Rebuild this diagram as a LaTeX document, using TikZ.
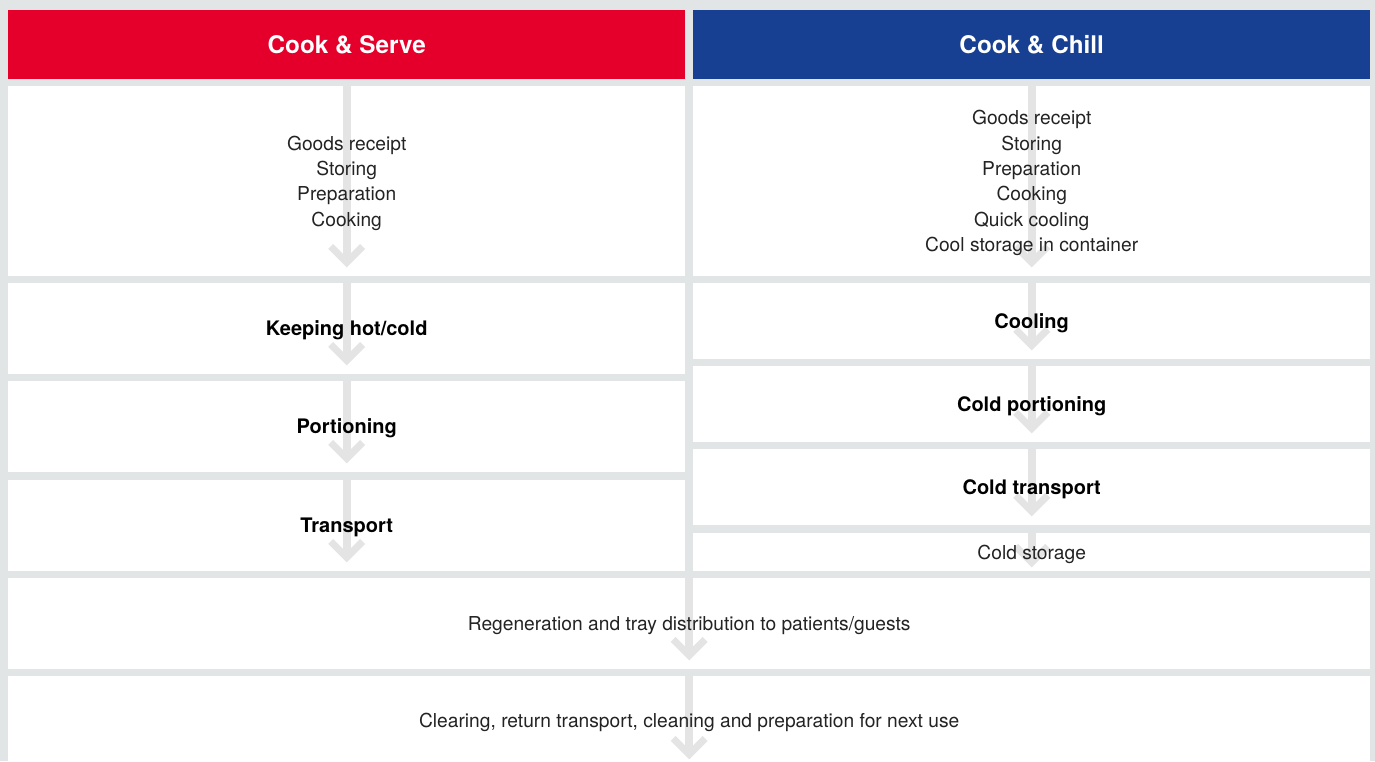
\documentclass[tikz,border=0pt]{standalone}
\usepackage{fontspec}
\setmainfont{TeX Gyre Heros}
\usepackage{xcolor}
\usetikzlibrary{arrows.meta}

\definecolor{bggray}{RGB}{225,229,230}
\definecolor{arrowgray}{RGB}{228,228,228}
\definecolor{serveRed}{RGB}{228,0,43}
\definecolor{chillBlue}{RGB}{24,64,146}
\definecolor{txtgray}{RGB}{35,35,35}

\tikzset{
  box/.style={rectangle, fill=white, inner sep=0pt, anchor=north west},
  header/.style={rectangle, inner sep=0pt, anchor=north west, text=white, font=\fontsize{24.3}{28}\selectfont\bfseries},
  flow/.style={draw=arrowgray, line width=8pt, -{Straight Barb[length=16pt, width=32pt, line width=7pt]}},
  plain/.style={align=center, text=txtgray, yshift=-2pt, font=\fontsize{19.2}{25.4}\selectfont},
  strong/.style={align=center, text=black, yshift=-2pt, font=\fontsize{20}{25}\selectfont\bfseries}
}

\begin{document}
\begin{tikzpicture}[x=1pt, y=-1pt]
                \useasboundingbox[fill=bggray] (0,0) rectangle (1375,761);
                \clip (0,0) rectangle (1375,761);

                % headers
                \node[header, fill=serveRed, minimum width=677pt, minimum height=69pt] (serve) at (8,10) {Cook \& Serve};
                \node[header, fill=chillBlue, minimum width=677pt, minimum height=69pt] (chill) at (693,10) {Cook \& Chill};

                % boxes
                \node[box, minimum width=677pt, minimum height=190pt] (L1) at (8,86) {};
                \node[box, minimum width=677pt, minimum height=91pt] (L2) at (8,283) {};
                \node[box, minimum width=677pt, minimum height=91pt] (L3) at (8,381) {};
                \node[box, minimum width=677pt, minimum height=91pt] (L4) at (8,480) {};
                \node[box, minimum width=677pt, minimum height=190pt] (R1) at (693,86) {};
                \node[box, minimum width=677pt, minimum height=76pt] (R2) at (693,283) {};
                \node[box, minimum width=677pt, minimum height=76pt] (R3) at (693,366) {};
                \node[box, minimum width=677pt, minimum height=76pt] (R4) at (693,449) {};
                \node[box, minimum width=677pt, minimum height=38pt] (R5) at (693,533) {};
                \node[box, minimum width=1362pt, minimum height=91pt] (B1) at (8,578) {};
                \node[box, minimum width=1362pt, minimum height=91pt] (B2) at (8,676) {};

                % arrows
                \foreach \b in {L1,L2,L3,L4,R1,R2,R3,R4,B1}
                    \draw[flow] (\b.north) -- ([yshift=9pt]\b.south);
                \draw[flow] (R5.north) -- ([yshift=4pt]R5.south);
                \draw[flow] (B2.north) -- ([yshift=8pt]B2.south);

                % texts
                \node[plain] (tL1) at (L1.center) {Goods receipt\\Storing\\Preparation\\Cooking};
                \node[strong] (tL2) at (L2.center) {Keeping hot/cold};
                \node[strong] (tL3) at (L3.center) {Portioning};
                \node[strong] (tL4) at (L4.center) {Transport};
                \node[plain] (tR1) at (R1.center) {Goods receipt\\Storing\\Preparation\\Cooking\\Quick cooling\\Cool storage in container};
                \node[strong] (tR2) at (R2.center) {Cooling};
                \node[strong] (tR3) at (R3.center) {Cold portioning};
                \node[strong] (tR4) at (R4.center) {Cold transport};
                \node[plain] (tR5) at (R5.center) {Cold storage};
                \node[plain] (tB1) at (B1.center) {Regeneration and tray distribution to patients/guests};
                \node[plain] (tB2) at ([yshift=1pt]B2.center) {Clearing, return transport, cleaning and preparation for next use};
            \end{tikzpicture}
\end{document}
